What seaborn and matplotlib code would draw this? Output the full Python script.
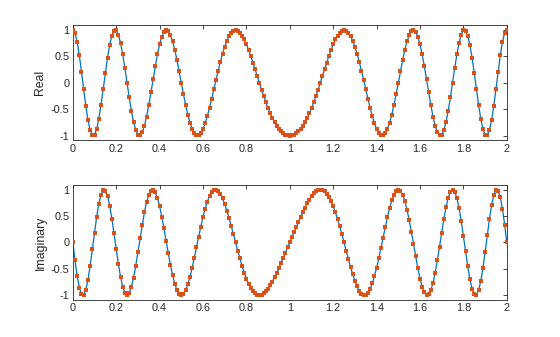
import numpy as np
import matplotlib
matplotlib.use("Agg")
import matplotlib.pyplot as plt
import seaborn as sns

# sample times (0 to 2 s, step 0.01)
t = np.linspace(0, 2, 201)

real_part = [
    1.000, 0.941, 0.774, 0.519, 0.207, -0.125, -0.442, -0.708, -0.897, -0.991,
    -0.982, -0.874, -0.679, -0.419, -0.120, 0.187, 0.475, 0.717, 0.892, 0.985,
    0.992, 0.913, 0.758, 0.540, 0.280, 0.000, -0.278, -0.532, -0.742, -0.896,
    -0.982, -0.997, -0.940, -0.819, -0.643, -0.426, -0.182, 0.070, 0.316, 0.540,
    0.729, 0.873, 0.964, 1.000, 0.979, 0.905, 0.783, 0.622, 0.430, 0.219,
    0.000, -0.217, -0.421, -0.604, -0.758, -0.876, -0.956, -0.996, -0.994, -0.953,
    -0.876, -0.767, -0.632, -0.475, -0.304, -0.125, 0.055, 0.232, 0.398, 0.551,
    0.685, 0.797, 0.886, 0.949, 0.987, 1.000, 0.988, 0.953, 0.896, 0.821,
    0.729, 0.624, 0.508, 0.384, 0.256, 0.125, -0.005, -0.133, -0.256, -0.373,
    -0.482, -0.582, -0.672, -0.751, -0.819, -0.876, -0.922, -0.957, -0.981, -0.995,
    -1.000,
    -0.995, -0.981, -0.957, -0.922, -0.876, -0.819, -0.751, -0.672, -0.582, -0.482,
    -0.373, -0.256, -0.133, -0.005, 0.125, 0.256, 0.384, 0.508, 0.624, 0.729,
    0.821, 0.896, 0.953, 0.988, 1.000, 0.987, 0.949, 0.886, 0.797, 0.685,
    0.551, 0.398, 0.232, 0.055, -0.125, -0.304, -0.475, -0.632, -0.767, -0.876,
    -0.953, -0.994, -0.996, -0.956, -0.876, -0.758, -0.604, -0.421, -0.217, 0.000,
    0.219, 0.430, 0.622, 0.783, 0.905, 0.979, 1.000, 0.964, 0.873, 0.729,
    0.540, 0.316, 0.070, -0.182, -0.426, -0.643, -0.819, -0.940, -0.997, -0.982,
    -0.896, -0.742, -0.532, -0.278, 0.000, 0.280, 0.540, 0.758, 0.913, 0.992,
    0.985, 0.892, 0.717, 0.475, 0.187, -0.120, -0.419, -0.679, -0.874, -0.982,
    -0.991, -0.897, -0.708, -0.442, -0.125, 0.207, 0.519, 0.774, 0.941, 1.000,
]

imag_part = [
    0.000, -0.338, -0.633, -0.855, -0.978, -0.992, -0.897, -0.706, -0.442, -0.133,
    0.187, 0.486, 0.734, 0.908, 0.993, 0.982, 0.880, 0.697, 0.453, 0.170,
    -0.125, -0.407, -0.653, -0.842, -0.960, -1.000, -0.961, -0.847, -0.670, -0.444,
    -0.187, 0.080, 0.340, 0.573, 0.766, 0.905, 0.983, 0.998, 0.949, 0.842,
    0.685, 0.488, 0.266, 0.030, -0.205, -0.426, -0.622, -0.783, -0.903, -0.976,
    -1.000, -0.976, -0.907, -0.797, -0.653, -0.482, -0.292, -0.093, 0.108, 0.302,
    0.482, 0.641, 0.775, 0.880, 0.953, 0.992, 0.998, 0.973, 0.917, 0.835,
    0.729, 0.604, 0.464, 0.314, 0.158, 0.000, -0.155, -0.304, -0.444, -0.571,
    -0.685, -0.782, -0.861, -0.923, -0.967, -0.992, -1.000, -0.991, -0.967, -0.928,
    -0.876, -0.813, -0.741, -0.660, -0.573, -0.482, -0.387, -0.290, -0.192, -0.095,
    0.000,
    0.095, 0.192, 0.290, 0.387, 0.482, 0.573, 0.660, 0.741, 0.813, 0.876,
    0.928, 0.967, 0.991, 1.000, 0.992, 0.967, 0.923, 0.861, 0.782, 0.685,
    0.571, 0.444, 0.304, 0.155, 0.000, -0.158, -0.314, -0.464, -0.604, -0.729,
    -0.835, -0.917, -0.973, -0.998, -0.992, -0.953, -0.880, -0.775, -0.641, -0.482,
    -0.302, -0.108, 0.093, 0.292, 0.482, 0.653, 0.797, 0.907, 0.976, 1.000,
    0.976, 0.903, 0.783, 0.622, 0.426, 0.205, -0.030, -0.266, -0.488, -0.685,
    -0.842, -0.949, -0.998, -0.983, -0.905, -0.766, -0.573, -0.340, -0.080, 0.187,
    0.444, 0.670, 0.847, 0.961, 1.000, 0.960, 0.842, 0.653, 0.407, 0.125,
    -0.170, -0.453, -0.697, -0.880, -0.982, -0.993, -0.908, -0.734, -0.486, -0.187,
    0.133, 0.442, 0.706, 0.897, 0.992, 0.978, 0.855, 0.633, 0.338, 0.000,
]

x_ticks = [0, 0.2, 0.4, 0.6, 0.8, 1, 1.2, 1.4, 1.6, 1.8, 2]
x_tick_labels = ["0", "0.2", "0.4", "0.6", "0.8", "1", "1.2", "1.4", "1.6", "1.8", "2"]
y_ticks = [-1, -0.5, 0, 0.5, 1]
y_tick_labels = ["-1", "-0.5", "0", "0.5", "1"]
panel_labels = ["Real", "Imaginary"]

sns.set_style("white")
plt.rcParams["font.family"] = ["Liberation Sans", "DejaVu Sans"]

BLUE = "#0072BD"
ORANGE = "#D95319"
AXC = "#262626"

fig = plt.figure(figsize=(5.6, 3.37), dpi=100)
positions = [[0.13, 0.5838, 0.775, 0.3412], [0.13, 0.11, 0.775, 0.3412]]

for pos, series, label in zip(positions, [real_part, imag_part], panel_labels):
    ax = fig.add_axes(pos)
    sns.lineplot(x=t, y=series, ax=ax, color=BLUE, linewidth=0.9, zorder=2)
    sns.scatterplot(x=t, y=series, ax=ax, color=ORANGE, marker="s", s=5,
                    linewidth=0, zorder=3)
    ax.set_xlim(0, 2)
    ax.set_ylim(-1.09, 1.09)
    ax.set_xticks(x_ticks)
    ax.set_xticklabels(x_tick_labels)
    ax.set_yticks(y_ticks)
    ax.set_yticklabels(y_tick_labels)
    ax.tick_params(direction="in", length=2.6, width=0.6, colors=AXC,
                   labelsize=7.8, top=True, right=True, pad=2.5)
    for sp in ax.spines.values():
        sp.set_visible(True)
        sp.set_color(AXC)
        sp.set_linewidth(0.6)
    ax.set_ylabel(label, fontsize=8.8, color=AXC, labelpad=3)
    ax.grid(False)

fig.savefig("out.png", dpi=100)
